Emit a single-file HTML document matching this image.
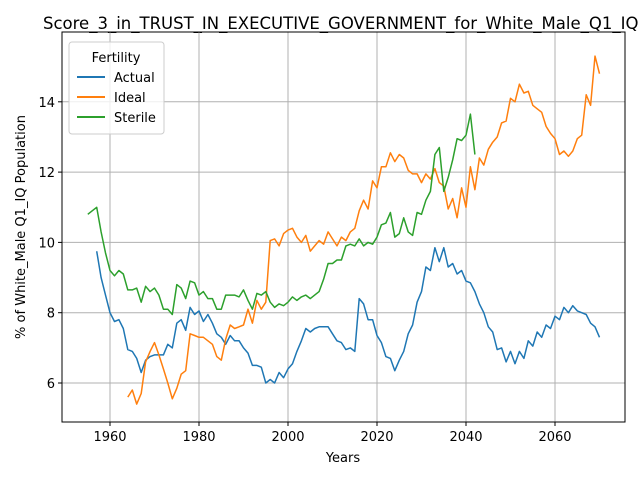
<!DOCTYPE html>
<html><head><meta charset="utf-8"><style>
body{margin:0;background:#fff;overflow:hidden}
svg{font-family:"DejaVu Sans","Liberation Sans",sans-serif}
</style></head><body>
<svg id="chart" width="640" height="480" viewBox="0 0 640 480">
<rect width="640" height="480" fill="#fff"/>
<text x="43" y="29" font-size="16.5">Score_3_in_TRUST_IN_EXECUTIVE_GOVERNMENT_for_White_Male_Q1_IQ</text>
<g id="grid"></g><g id="series"></g><g id="axes"></g>
<text x="343" y="462" font-size="13" text-anchor="middle">Years</text>
<text transform="translate(25,227) rotate(-90)" font-size="13" text-anchor="middle">% of White_Male Q1_IQ Population</text>
<g>
<rect x="69" y="42" width="95" height="92" rx="3" fill="#fff" fill-opacity="0.8" stroke="#ccc"/>
<text x="116" y="62" font-size="13" text-anchor="middle">Fertility</text>
<g><line x1="77" y1="77" x2="105" y2="77" stroke="#1f77b4" stroke-width="2"/><text x="114" y="82" font-size="13">Actual</text></g>
<g><line x1="77" y1="97" x2="105" y2="97" stroke="#ff7f0e" stroke-width="2"/><text x="114" y="102" font-size="13">Ideal</text></g>
<g><line x1="77" y1="117" x2="105" y2="117" stroke="#2ca02c" stroke-width="2"/><text x="114" y="122" font-size="13">Sterile</text></g>
</g>
</svg>
<script>
const actualStart = 1957;
const actual = [9.75,9.0,8.5,8.0,7.75,7.8,7.55,6.95,6.9,6.7,6.3,6.65,6.75,6.8,6.8,6.8,7.1,7.0,7.7,7.8,7.5,8.15,7.95,8.05,7.75,7.95,7.7,7.4,7.3,7.1,7.35,7.2,7.2,7.0,6.85,6.5,6.5,6.45,6.0,6.1,6.0,6.3,6.15,6.4,6.55,6.9,7.2,7.55,7.45,7.55,7.6,7.6,7.6,7.4,7.2,7.15,6.95,7.0,6.9,8.4,8.25,7.8,7.8,7.35,7.15,6.75,6.7,6.35,6.65,6.9,7.4,7.65,8.3,8.6,9.3,9.2,9.85,9.45,9.85,9.3,9.4,9.1,9.2,8.9,8.85,8.6,8.25,8.0,7.6,7.45,6.95,7.0,6.6,6.9,6.55,6.9,6.7,7.2,7.05,7.45,7.3,7.65,7.55,7.9,7.8,8.15,8.0,8.2,8.05,8.0,7.95,7.7,7.6,7.3];
const idealStart = 1964;
const ideal = [5.6,5.8,5.4,5.7,6.6,6.9,7.15,6.8,6.4,6.0,5.55,5.85,6.25,6.35,7.4,7.35,7.3,7.3,7.2,7.1,6.75,6.65,7.25,7.65,7.55,7.6,7.65,8.1,7.7,8.35,8.1,8.3,10.05,10.1,9.9,10.25,10.35,10.4,10.15,10.0,10.2,9.75,9.9,10.05,9.95,10.3,10.1,9.9,10.15,10.05,10.3,10.4,10.9,11.2,10.95,11.75,11.55,12.15,12.15,12.55,12.3,12.5,12.4,12.05,11.95,11.95,11.7,11.95,11.8,12.1,11.7,11.6,10.95,11.25,10.7,11.55,11.0,12.15,11.5,12.4,12.2,12.65,12.85,13.0,13.4,13.45,14.1,14.0,14.5,14.25,14.3,13.9,13.8,13.7,13.3,13.1,12.95,12.5,12.6,12.45,12.6,12.95,13.05,14.2,13.9,15.3,14.8];
const sterileStart = 1955;
const sterile = [10.8,10.9,11.0,10.3,9.7,9.2,9.05,9.2,9.1,8.65,8.65,8.7,8.3,8.75,8.6,8.7,8.5,8.1,8.1,7.95,8.8,8.7,8.4,8.9,8.85,8.5,8.6,8.4,8.4,8.1,8.1,8.5,8.5,8.5,8.45,8.65,8.35,8.1,8.55,8.5,8.6,8.3,8.15,8.25,8.2,8.3,8.45,8.35,8.45,8.5,8.4,8.5,8.6,8.95,9.4,9.4,9.5,9.5,9.9,9.95,9.9,10.1,9.9,10.0,9.95,10.15,10.5,10.55,10.85,10.15,10.25,10.7,10.3,10.2,10.85,10.8,11.2,11.45,12.5,12.7,11.45,11.85,12.35,12.95,12.9,13.05,13.65,12.5];
const xTicks = [1960,1980,2000,2020,2040,2060];
const yTicks = [6,8,10,12,14];

const L=62,R=625,T=32,B=422;
const xs = v => 110 + (v-1960)*4.45;
const ys = v => 383 - (v-6)*35.15;
const NS="http://www.w3.org/2000/svg";
function mk(tag, parent){const e=document.createElementNS(NS,tag);parent.appendChild(e);return e;}
const grid=document.getElementById('grid'), axes=document.getElementById('axes'), ser=document.getElementById('series');
xTicks.forEach(t=>{
  const g=mk('line',grid);g.setAttribute('x1',xs(t));g.setAttribute('x2',xs(t));g.setAttribute('y1',T);g.setAttribute('y2',B);g.setAttribute('stroke','#b0b0b0');g.setAttribute('stroke-width','1');
  
  
  const k=mk('line',axes);k.setAttribute('x1',xs(t));k.setAttribute('x2',xs(t));k.setAttribute('y1',B);k.setAttribute('y2',B+4);k.setAttribute('stroke','#000');
  const tx=mk('text',axes);tx.textContent=t;tx.setAttribute('x',xs(t));tx.setAttribute('y',B+19);tx.setAttribute('font-size','13');tx.setAttribute('text-anchor','middle');
  
  
});
yTicks.forEach(t=>{
  const g=mk('line',grid);g.setAttribute('x1',L);g.setAttribute('x2',R);g.setAttribute('y1',ys(t));g.setAttribute('y2',ys(t));g.setAttribute('stroke','#b0b0b0');g.setAttribute('stroke-width','1');
  
  
  const k=mk('line',axes);k.setAttribute('x1',L-4);k.setAttribute('x2',L);k.setAttribute('y1',ys(t));k.setAttribute('y2',ys(t));k.setAttribute('stroke','#000');
  const tx=mk('text',axes);tx.textContent=t;tx.setAttribute('x',L-7);tx.setAttribute('y',ys(t)+5);tx.setAttribute('font-size','13');tx.setAttribute('text-anchor','end');
  
  
});
const fr=mk('rect',axes);fr.setAttribute('x',L);fr.setAttribute('y',T);fr.setAttribute('width',R-L);fr.setAttribute('height',B-T);fr.setAttribute('fill','none');fr.setAttribute('stroke','#000');


function line(data,start,color,name){
  const p=mk('polyline',ser);
  p.setAttribute('points',data.map((v,i)=>xs(start+i).toFixed(1)+','+ys(v).toFixed(1)).join(' '));
  p.setAttribute('fill','none');p.setAttribute('stroke',color);p.setAttribute('stroke-width','1.5');p.setAttribute('stroke-linejoin','round');
  
  
}
line(actual,actualStart,'#1f77b4','actual-line');
line(ideal,idealStart,'#ff7f0e','ideal-line');
line(sterile,sterileStart,'#2ca02c','sterile-line');
</script>
</body></html>
